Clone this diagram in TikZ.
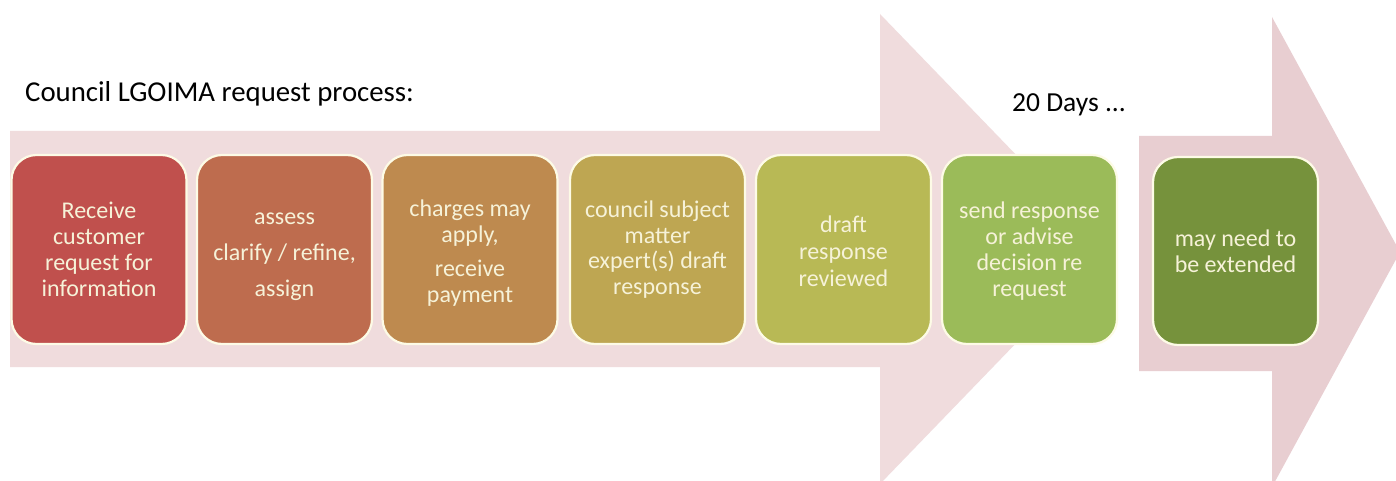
\documentclass[tikz,border=0pt]{standalone}
\usepackage{fontspec}
\setmainfont{Carlito}
\definecolor{arrowA}{RGB}{240,220,221}
\definecolor{arrowB}{RGB}{232,206,209}
\definecolor{cA}{RGB}{192,80,77}
\definecolor{cB}{RGB}{190,108,78}
\definecolor{cC}{RGB}{190,138,79}
\definecolor{cD}{RGB}{190,166,82}
\definecolor{cE}{RGB}{184,185,85}
\definecolor{cF}{RGB}{155,187,89}
\definecolor{cG}{RGB}{118,146,60}
\definecolor{txt}{RGB}{246,242,216}
\definecolor{rim}{RGB}{253,251,230}
\tikzset{
  stepbox/.style={draw=rim, line width=2.2pt, rounded corners=25pt,
    minimum width=175pt, minimum height=189pt, text=txt, align=center,
    inner sep=0pt, font=\fontsize{24}{25.8}\selectfont},
  heading/.style={anchor=base west, inner sep=0pt, text=black,
    font=\fontsize{28.8}{32}\selectfont}
}
\begin{document}
\begin{tikzpicture}[x=1pt,y=-1pt]
\useasboundingbox (0,0) rectangle (1396,481);
\fill[white] (0,0) rectangle (1396,481);
% big arrows
\fill[arrowA] (10,131) -- (880,131) -- (880,14) -- (1107,249) -- (880,484)
  -- (880,367) -- (10,367) -- cycle;
\fill[arrowB] (1139,136) -- (1272,136) -- (1272,17) -- (1400,252) -- (1272,487)
  -- (1272,371) -- (1139,371) -- cycle;
% texts
\node[heading] (title) at (25,102) {Council LGOIMA request process:};
\node[heading, font=\fontsize{27.5}{32}\selectfont] (days) at (1012,112) {20 Days ...};
% boxes
\node[stepbox, fill=cA] (b1) at (99,249.5) {Receive\\customer\\request for\\information};
\node[stepbox, fill=cB] (b2) at (284.5,249.5) {\rule{0pt}{26pt}assess\\[10pt]clarify / refine,\\[10pt]assign};
\node[stepbox, fill=cC] (b3) at (470,249.5) {\rule{0pt}{24pt}charges may\\apply,\\[9pt]receive\\payment};
\node[stepbox, fill=cD] (b4) at (657.5,249.5) {council subject\\matter\\expert(s) draft\\response};
\node[stepbox, fill=cE] (b5) at (843.5,249.5) {\rule{0pt}{20pt}draft\\[1pt]response\\[1pt]reviewed};
\node[stepbox, fill=cF] (b6) at (1029.5,249.5) {\rule{0pt}{20pt}send response\\or advise\\decision re\\request};
\node[stepbox, fill=cG, minimum width=165pt, minimum height=188pt] (b7) at (1235.5,251) {may need to\\be extended};
\end{tikzpicture}
\end{document}
